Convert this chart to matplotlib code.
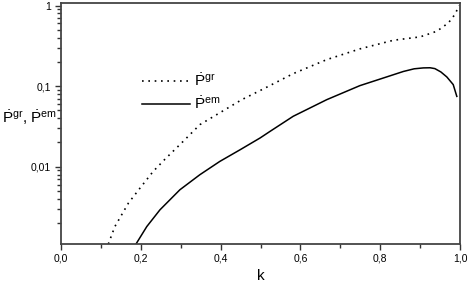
import matplotlib
matplotlib.use("Agg")
import matplotlib.pyplot as plt
from matplotlib.ticker import LogLocator, FuncFormatter, MultipleLocator

plt.rcParams['font.family'] = ['Liberation Sans', 'DejaVu Sans']
plt.rcParams['mathtext.fontset'] = 'custom'
plt.rcParams['mathtext.rm'] = 'Liberation Sans'
plt.rcParams['mathtext.it'] = 'Liberation Sans:italic'
plt.rcParams['mathtext.bf'] = 'Liberation Sans:bold'

# P_gr (dotted)
k_gr = [0.1186, 0.135, 0.169, 0.198, 0.231, 0.261, 0.302, 0.348, 0.407, 0.453, 0.507,
        0.582, 0.666, 0.749, 0.833, 0.900, 0.942, 0.971, 0.987, 0.998]
p_gr = [0.00110, 0.00181, 0.00354, 0.00543, 0.00875, 0.01247, 0.01968, 0.03327, 0.04966,
        0.06792, 0.09226, 0.1429, 0.2133, 0.2897, 0.3707, 0.4083, 0.4797, 0.6095, 0.7727, 1.0]
# P_em (solid)
k_em = [0.188, 0.215, 0.248, 0.298, 0.348, 0.398, 0.449, 0.499, 0.524, 0.582, 0.666,
        0.749, 0.816, 0.858, 0.885, 0.908, 0.925, 0.937, 0.952, 0.967, 0.983, 0.992]
p_em = [0.00110, 0.00181, 0.00292, 0.00518, 0.00796, 0.01164, 0.01626, 0.02275, 0.02748,
        0.04227, 0.06792, 0.1014, 0.1300, 0.1520, 0.1640, 0.1683, 0.1690, 0.1650, 0.1500,
        0.1300, 0.1045, 0.0746]

xticks = [0.0, 0.2, 0.4, 0.6, 0.8, 1.0]
xticklabels = ['0,0', '0,2', '0,4', '0,6', '0,8', '1,0']
yticks = [0.01, 0.1, 1]
yticklabels = ['0,01', '0,1', '1']

fig = plt.figure(figsize=(4.69, 2.87), dpi=100)
ax = fig.add_axes([61/469, 1 - 244/287, (460-61)/469, (244-3)/287])

ax.plot(k_gr, p_gr, color='black', linestyle=(0, (1, 2.8)), linewidth=1.2,
        label=r'$\dot{\mathrm{P}}^{\mathrm{gr}}$')
ax.plot(k_em, p_em, color='black', linestyle='-', linewidth=1.1,
        label=r'$\dot{\mathrm{P}}^{\mathrm{em}}$')

ax.set_yscale('log')
ax.set_xlim(0, 1.0)
ax.set_ylim(0.0011, 1.075)

ax.set_xticks(xticks)
ax.set_xticklabels(xticklabels)
ax.xaxis.set_minor_locator(MultipleLocator(0.1))
ax.set_yticks(yticks)
ax.set_yticklabels(yticklabels)
ax.yaxis.set_minor_locator(LogLocator(base=10, subs=range(2, 10)))
ax.yaxis.set_minor_formatter(FuncFormatter(lambda v, p: ''))

ax.tick_params(axis='both', which='major', direction='out', length=4, width=1,
               labelsize=7.5, color='#333333', pad=3)
ax.tick_params(axis='both', which='minor', direction='out', length=3, width=1,
               color='#333333')
ax.tick_params(top=False, right=False)

for s in ax.spines.values():
    s.set_linewidth(1.3)
    s.set_color('#444444')

ax.set_xlabel('k', fontsize=11, labelpad=4)
fig.text(2/469, 1 - 118/287, r'$\dot{\mathrm{P}}^{\mathrm{gr}}$, $\dot{\mathrm{P}}^{\mathrm{em}}$',
         fontsize=11, ha='left', va='center')

ax.legend(loc='upper left', bbox_to_anchor=(0.185, 0.745), frameon=False,
          fontsize=11, handlelength=3.1, handletextpad=0.25, labelspacing=0.4,
          borderpad=0)

fig.savefig('out.png', dpi=100)
